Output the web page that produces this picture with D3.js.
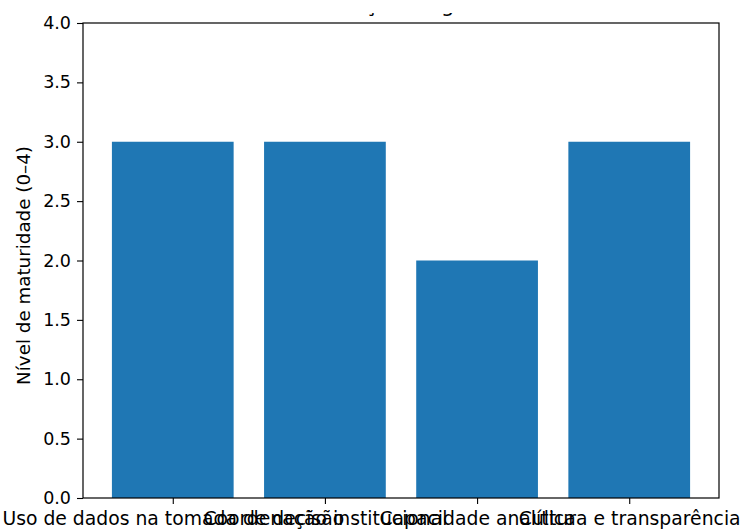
<!DOCTYPE html>
<html>
<head>
<meta charset="utf-8">
<script src="https://cdn.jsdelivr.net/npm/d3@7"></script>
<style>
  html, body { margin: 0; padding: 0; background: #fff; }
  svg text { font-family: "DejaVu Sans", sans-serif; fill: #000; }
</style>
</head>
<body>
<svg id="chart" width="744" height="529"></svg>
<script>
const categories = [
  "Uso de dados na tomada de decisão",
  "Coordenação institucional",
  "Capacidade analítica",
  "Cultura e transparência"
];
const values = [3, 3, 2, 3];
const yTicks = [0, 0.5, 1, 1.5, 2, 2.5, 3, 3.5, 4];
const titleText = "Avaliação diagnóstica";
const yLabel = "Nível de maturidade (0–4)";

const W = 744, H = 529;
const m = { left: 83, right: 25, top: 23, bottom: 31 };
const svg = d3.select("#chart");

const x = d3.scaleLinear().domain([-0.59, categories.length - 1 + 0.59]).range([m.left, W - m.right]);
const y = d3.scaleLinear().domain([0, 4]).range([H - m.bottom, m.top]);
const barW = 0.8;

// bars
svg.append("g").selectAll("rect").data(values).join("rect")
  .attr("x", (d, i) => x(i - barW / 2))
  .attr("width", x(barW) - x(0))
  .attr("y", d => y(d))
  .attr("height", d => y(0) - y(d))
  .attr("fill", "#1f77b4");

// y axis
const yAxis = d3.axisLeft(y).tickValues(yTicks).tickFormat(d3.format(".1f")).tickSize(6).tickPadding(6);
const gy = svg.append("g").attr("transform", `translate(${m.left},0)`).call(yAxis);
gy.select(".domain").remove();
gy.selectAll(".tick line").attr("stroke", "#000").attr("stroke-width", 1.1);
gy.selectAll(".tick text").attr("font-size", 17.5).attr("font-family", "DejaVu Sans").attr("fill", "#222");

// x axis
const xAxis = d3.axisBottom(x).tickValues(d3.range(categories.length)).tickFormat(i => categories[i]).tickSize(6).tickPadding(8);
const gx = svg.append("g").attr("transform", `translate(0,${H - m.bottom})`).call(xAxis);
gx.select(".domain").remove();
gx.selectAll(".tick line").attr("stroke", "#000").attr("stroke-width", 1.1);
gx.selectAll(".tick text").attr("font-size", 18.8).attr("font-family", "DejaVu Sans").attr("fill", "#222");

// frame
svg.append("rect")
  .attr("x", m.left).attr("y", m.top)
  .attr("width", W - m.left - m.right).attr("height", H - m.top - m.bottom)
  .attr("fill", "none").attr("stroke", "#000").attr("stroke-width", 1.2);

// y label
svg.append("text")
  .attr("transform", `translate(30,${(m.top + H - m.bottom) / 2 + 5}) rotate(-90)`)
  .attr("text-anchor", "middle")
  .attr("font-size", 18.3)
  .attr("fill", "#222")
  .text(yLabel);

// title (its top is cut off in the reference)
svg.append("clipPath").attr("id", "titleclip")
  .append("rect").attr("x", 0).attr("y", 13).attr("width", W).attr("height", 10);
svg.append("text")
  .attr("clip-path", "url(#titleclip)")
  .attr("x", (m.left + W - m.right) / 2 + 15)
  .attr("y", 11.5)
  .attr("text-anchor", "middle")
  .attr("font-size", 21)
  .text(titleText);
</script>
</body>
</html>
